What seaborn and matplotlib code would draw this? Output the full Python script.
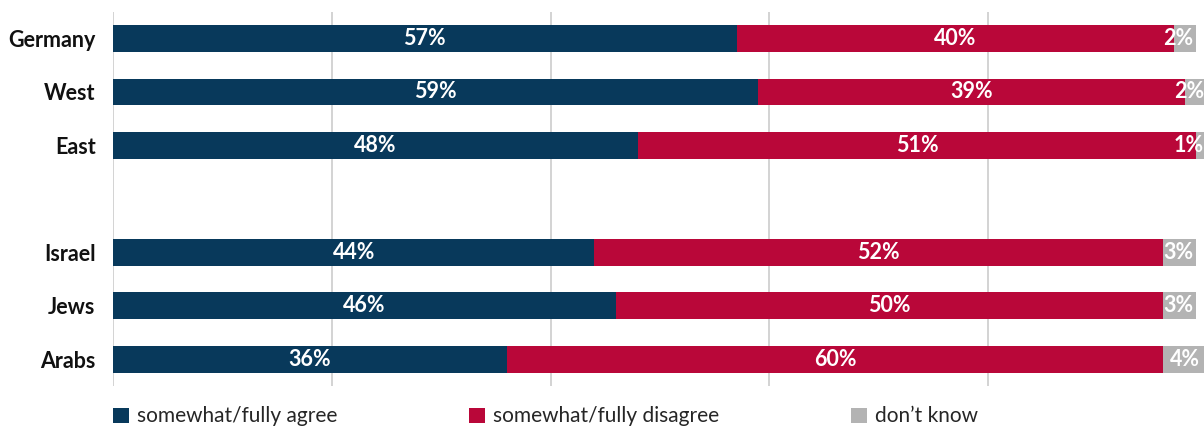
import matplotlib
matplotlib.use("Agg")
import matplotlib.pyplot as plt
from matplotlib.patches import Patch
import matplotlib.transforms as mtransforms
import seaborn as sns
import pandas as pd

# Survey shares (%) per group
groups = ["Germany", "West", "East", "Israel", "Jews", "Arabs"]
agree = [57, 59, 48, 44, 46, 36]
disagree = [40, 39, 51, 52, 50, 60]
dont_know = [2, 2, 1, 3, 3, 4]

series_names = ["somewhat/fully agree", "somewhat/fully disagree", "don\u2019t know"]
colors = ["#08395b", "#b90739", "#b3b3b3"]

# Row order with a blank spacer row between the German and Israeli blocks
row_order = ["Germany", "West", "East", " ", "Israel", "Jews", "Arabs"]

sns.set_theme(style="white")
plt.rcParams["font.family"] = ["Lato", "DejaVu Sans"]

df = pd.DataFrame({"group": groups, "agree": agree,
                   "disagree": disagree, "dk": dont_know})
df["cum1"] = df["agree"]
df["cum2"] = df["agree"] + df["disagree"]
df["cum3"] = df["cum2"] + df["dk"]

fig = plt.figure(figsize=(12.04, 4.29), dpi=100)
W, H = 1204, 429
ax = fig.add_axes([113 / W, 1 - 386 / H, 1094 / W, (386 - 11.75) / H])

# Stack by overlaying cumulative totals, widest first
for col, color in zip(["cum3", "cum2", "cum1"], colors[::-1]):
    sns.barplot(data=df, x=col, y="group", order=row_order, color=color,
                width=0.5, saturation=1, ax=ax, linewidth=0, zorder=3)

ax.set_xlim(0, 100)
ax.set_ylim(6.5, -0.5)
ax.set_xticks([0, 20, 40, 60, 80])
ax.set_xticklabels([])
ax.xaxis.grid(True, color="#c8c8c8", linewidth=1.1, zorder=0)
ax.yaxis.grid(False)
for s in ax.spines.values():
    s.set_visible(False)
ax.set_xlabel("")
ax.set_ylabel("")
ax.tick_params(axis="y", length=0, pad=12.5)
ax.tick_params(axis="x", length=0)
for lab in ax.get_yticklabels():
    lab.set_fontweight("bold")
    lab.set_fontsize(15.5)
    lab.set_color("#111111")

# Value labels centred in each segment; the last one is kept inside its bar end
fig.canvas.draw()
renderer = fig.canvas.get_renderer()
pos = {g: row_order.index(g) for g in groups}
px_per_unit = ax.transData.transform((1, 0))[0] - ax.transData.transform((0, 0))[0]
for _, r in df.iterrows():
    y = pos[r["group"]]
    lefts = [0, r["cum1"], r["cum2"]]
    vals = [r["agree"], r["disagree"], r["dk"]]
    for i, (left, v) in enumerate(zip(lefts, vals)):
        t = ax.text(left + v / 2, y, f"{v}%", ha="center", va="center",
                    color="white", fontsize=15.5, fontweight="bold", zorder=5)
        if i == 2:
            half_w = t.get_window_extent(renderer).width / 2
            right_px = (left + v) * px_per_unit - 3
            if (left + v / 2) * px_per_unit + half_w > right_px:
                t.set_x(left + v)
                t.set_ha("right")
                t.set_transform(ax.transData + mtransforms.ScaledTranslation(
                    -3 / 100, 0, fig.dpi_scale_trans))

handles = [Patch(facecolor=c, edgecolor="none", label=n)
           for c, n in zip(colors, series_names)]
fig.legend(handles=handles, loc="center left", bbox_to_anchor=(113 / W, 1 - 416.5 / H),
           ncol=3, frameon=False, fontsize=15, handlelength=0.75,
           handleheight=0.75, handletextpad=0.38, columnspacing=6.35,
           borderaxespad=0, borderpad=0)

fig.savefig("out.png", dpi=100)
